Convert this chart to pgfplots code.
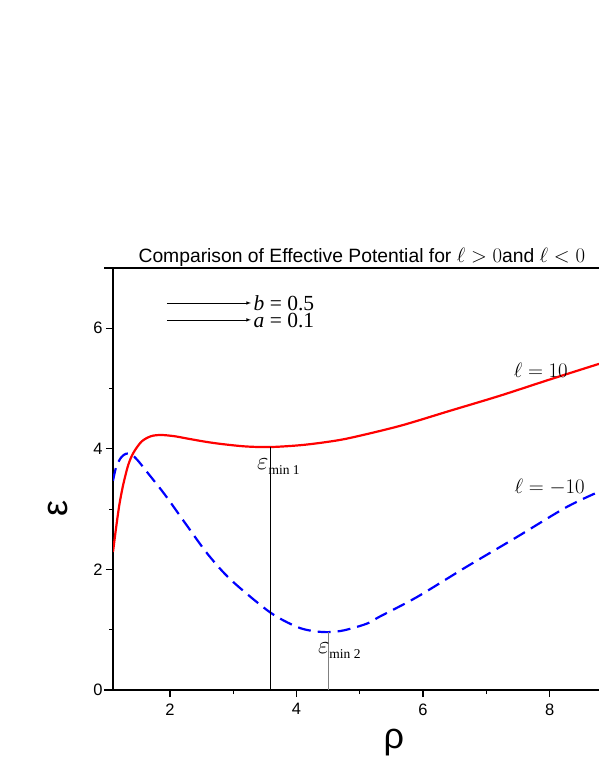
\documentclass[border=0pt]{standalone}
\usepackage[no-math]{fontspec}
\setmainfont{Liberation Sans}
\newfontfamily\tnr{Liberation Serif}
\usepackage{pgfplots}
\pgfplotsset{compat=1.18}
\begin{document}
\begin{tikzpicture}
\path[use as bounding box] (0pt,0pt) rectangle (599pt,-776pt);
\begin{axis}[
  at={(113pt,-690pt)}, anchor=south west,
  scale only axis, width=486pt, height=422pt,
  xmin=1.1, xmax=8.78, ymin=0, ymax=7,
  axis x line*=bottom, axis y line*=left,
  axis line style={line width=1.3pt},
  xtick={2,4,6,8}, ytick={0,2,4,6},
  minor x tick num=1, minor y tick num=1,
  tick align=outside,
  major tick length=7pt, minor tick length=4pt,
  every tick/.style={line width=1.2pt, black},
  tick label style={font=\fontsize{16.5}{16.5}\selectfont},
  /pgf/number format/assume math mode=true,
  xticklabel style={yshift=-3pt},
  xlabel={\fontsize{36}{36}\selectfont ρ},
  xlabel style={at={(axis description cs:0.578,-0.124)}, anchor=center},
  ylabel={\fontsize{36}{36}\selectfont ε},
  ylabel style={at={(axis description cs:-0.113,0.431)}, anchor=center},
  clip mode=individual,
]
\addplot[red, line width=2.2pt, smooth, tension=0.5] coordinates {
(1.10,2.29) (1.15,2.70) (1.20,3.07) (1.26,3.40) (1.34,3.73) (1.42,3.93)
(1.55,4.12) (1.70,4.21) (1.86,4.23) (2.07,4.21) (2.28,4.17) (2.55,4.12) (2.82,4.08)
(3.20,4.04) (3.58,4.03) (4.05,4.06) (4.45,4.11) (4.84,4.18) (5.63,4.38) (6.42,4.63)
(7.21,4.88) (8.00,5.15) (8.78,5.41)};
\addplot[blue, line width=2.2pt, dash pattern=on 13pt off 7pt, smooth, tension=0.5] coordinates {
(1.10,3.47) (1.15,3.70) (1.23,3.86) (1.31,3.92) (1.39,3.91) (1.49,3.81) (1.65,3.60)
(1.92,3.24) (2.26,2.74) (2.60,2.25) (2.97,1.82) (3.58,1.29) (4.00,1.05) (4.25,0.98)
(4.50,0.96) (4.75,0.99) (5.11,1.10) (5.32,1.22) (5.90,1.54) (6.68,2.04) (7.47,2.53)
(8.26,3.03) (8.78,3.29)};
\addplot[black, line width=0.6pt] coordinates {(3.59,0) (3.59,4.03)};
\addplot[gray, line width=0.8pt] coordinates {(4.51,0) (4.51,0.96)};
\addplot[black, line width=0.6pt, -latex] coordinates {(1.95,6.42) (3.28,6.42)};
\addplot[black, line width=0.6pt, -latex] coordinates {(1.95,6.14) (3.28,6.14)};
\node[anchor=base west, font=\tnr\fontsize{21.5}{21.5}\selectfont, inner sep=0pt] at (axis cs:3.32,6.30) {\textit{b} = 0.5};
\node[anchor=base west, font=\tnr\fontsize{21.5}{21.5}\selectfont, inner sep=0pt] at (axis cs:3.32,6.01) {\textit{a} = 0.1};
\node[font=\fontsize{22}{22}\selectfont] at (axis cs:7.86,5.31) {$\ell=10$};
\node[font=\fontsize{22}{22}\selectfont] at (axis cs:8.0,3.36) {$\ell=-10$};
\node[anchor=base west, inner sep=0pt] at (axis cs:3.374,3.65)
  {{\fontsize{23}{23}\selectfont$\varepsilon$}\raisebox{-5pt}{\tnr\fontsize{13.5}{13.5}\selectfont min 1}};
\node[anchor=base west, inner sep=0pt] at (axis cs:4.337,0.61)
  {{\fontsize{23}{23}\selectfont$\varepsilon$}\raisebox{-5pt}{\tnr\fontsize{13.5}{13.5}\selectfont min 2}};
\draw[line width=1.3pt] (axis description cs:-0.0185,1) -- (axis description cs:1,1);
\draw[line width=1.3pt] (axis description cs:-0.0185,0) -- (axis description cs:0,0);
\node[anchor=base, font=\fontsize{19.3}{19.3}\selectfont, inner sep=0pt] at (axis description cs:0.512,1.0142)
  {Comparison of Effective Potential for {\fontsize{22.8}{22.8}\selectfont$\ell>0$}and {\fontsize{22.8}{22.8}\selectfont$\ell<0$}};
\end{axis}
\end{tikzpicture}
\end{document}
